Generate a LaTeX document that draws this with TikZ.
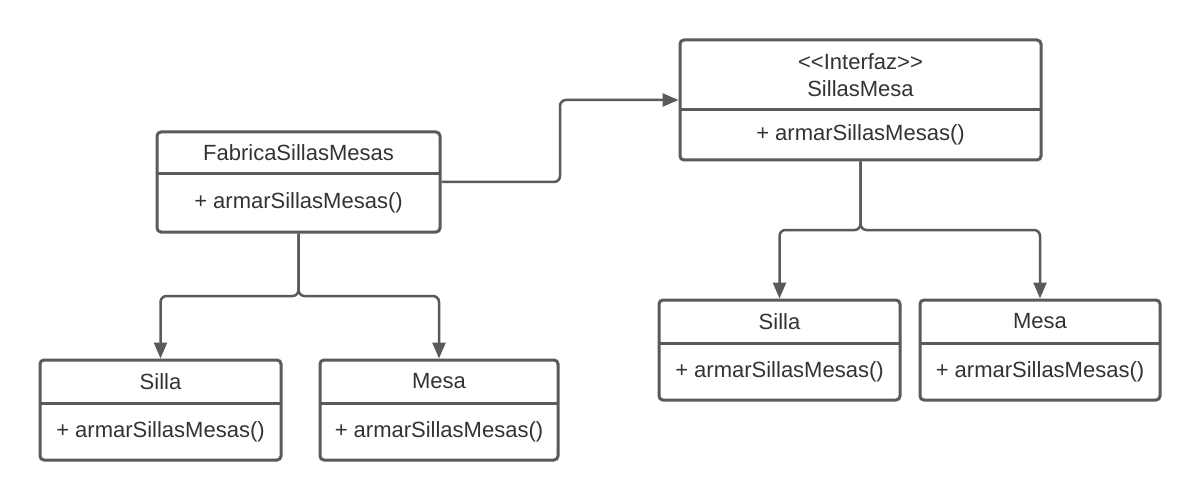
\documentclass[tikz,border=0pt]{standalone}
\usepackage{fontspec}
\setmainfont{Liberation Sans}
\usetikzlibrary{arrows.meta}
\definecolor{linegray}{HTML}{5A5A5A}
\definecolor{textgray}{HTML}{333333}
\tikzset{
  classbox/.style={draw=linegray, line width=3pt, rounded corners=4pt, fill=white, inner sep=0pt},
  divider/.style={draw=linegray, line width=3pt},
  classtext/.style={text=textgray, font=\fontsize{22}{27}\selectfont, inner sep=0pt, anchor=center, align=center},
  conn/.style={draw=linegray, line width=2.5pt, rounded corners=6pt, -{Triangle[length=16pt,width=13pt]}},
}
% \umlcls{name}{x1}{y1}{x2}{y2}{ydiv}{title}{method}
\newcommand{\umlcls}[8]{%
  \node[classbox, minimum width={#4-#2}, minimum height={#5-#3}] (#1) at ({(#2+#4)/2},{(#3+#5)/2}) {};
  \draw[divider] (#2,#6) -- (#4,#6);
  \node[classtext] (#1-title) at ({(#2+#4)/2},{(#3+#6)/2}) {#7};
  \node[classtext] (#1-method) at ({(#2+#4)/2},{(#6+#5)/2}) {#8};
}
\begin{document}
\begin{tikzpicture}[x=1pt,y=-1pt]
\useasboundingbox[fill=white] (0,0) rectangle (1200,500);

\umlcls{fab}{157}{132}{440}{232}{174}{FabricaSillasMesas}{+ armarSillasMesas()}
\umlcls{int}{680}{40}{1041}{160}{110}{<\kern0pt<\kern0pt Interfaz>\kern0pt>\\SillasMesa}{+ armarSillasMesas()}
\umlcls{lsilla}{40}{360}{281}{460}{403}{Silla}{+ armarSillasMesas()}
\umlcls{lmesa}{320}{360}{558}{460}{403}{Mesa}{+ armarSillasMesas()}
\umlcls{rsilla}{659}{300}{900}{400}{343}{Silla}{+ armarSillasMesas()}
\umlcls{rmesa}{920}{300}{1160}{400}{343}{Mesa}{+ armarSillasMesas()}

\coordinate (fj) at (fab.south |- 0,296);
\coordinate (ij) at (int.south |- 0,230);
\coordinate (bend1) at (560,182);
\coordinate (bend2) at (560,100);

\draw[conn] (fab.south) -- (fj) -| (lsilla.north);
\draw[conn] (fab.south) -- (fj) -| (lmesa.north);
\draw[conn] (int.south) -- (ij) -| (rsilla.north);
\draw[conn] (int.south) -- (ij) -| (rmesa.north);
\draw[conn] (fab.east) -- (bend1) -- (bend2) -- (int.west);
\end{tikzpicture}
\end{document}
